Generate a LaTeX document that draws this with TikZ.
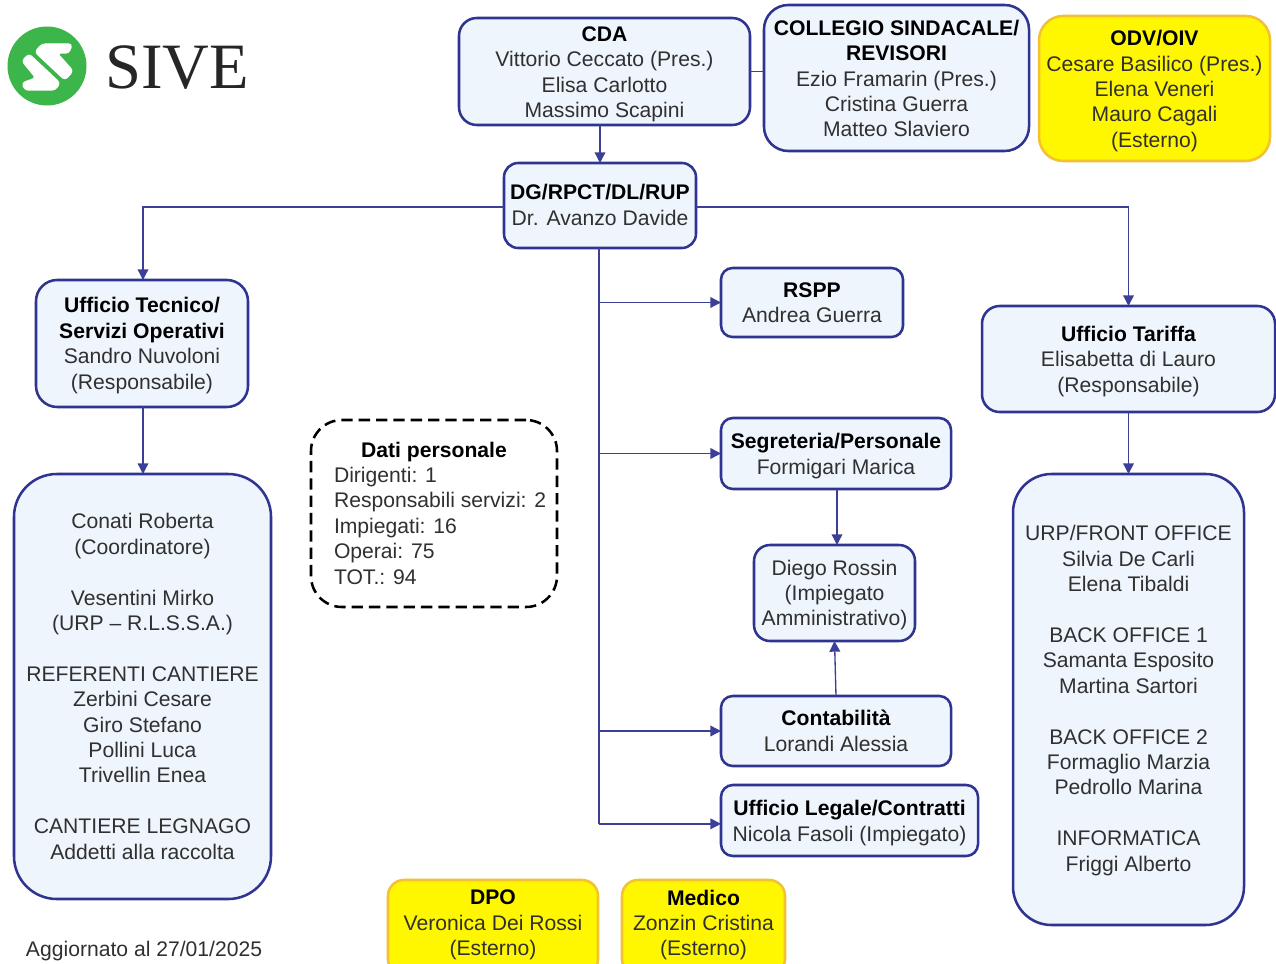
\documentclass[tikz,border=0pt]{standalone}
\usepackage{fontspec}
\setmainfont{Liberation Sans}
\newfontfamily\logofont{Liberation Serif}
\usetikzlibrary{arrows.meta}
\definecolor{bord}{HTML}{2F3490}
\definecolor{lin}{HTML}{3B3F98}
\definecolor{pale}{HTML}{EFF5FD}
\definecolor{yel}{HTML}{FFF700}
\definecolor{yelb}{HTML}{F2C230}
\definecolor{txt}{HTML}{303030}
\definecolor{sgreen}{HTML}{3CB54A}
\tikzset{
  x=0.75pt,y=-0.75pt,
  base/.style={inner sep=0pt,outer sep=0pt},
  blue/.style={base,draw=bord,line width=1.9pt,fill=pale},
  gold/.style={base,draw=yelb,line width=1.9pt,fill=yel},
  dati/.style={base,draw=black,line width=1.9pt,dash pattern=on 8.5pt off 4.5pt,fill=white},
  label/.style={inner sep=0pt,outer sep=0pt,align=center,font=\fontsize{15.85pt}{19.05pt}\selectfont,text=txt},
  plain/.style={inner sep=0pt,outer sep=0pt,align=left,font=\fontsize{15.85pt}{19.05pt}\selectfont,text=txt},
  conn/.style={draw=lin,line width=1pt},
  arr/.style={conn,-{Triangle[length=8pt,width=8pt]}},
  logow/.style={fill=white,draw=white,line width=1pt,line join=round,rounded corners=2.5pt},
}
% name, x1, y1, x2, y2, style, text, text offset
\newcommand{\bx}[8]{%
  \pgfmathsetmacro\rad{min(#4-#2,#5-#3)*0.1667*0.75}%
  \node[#6,rounded corners=\rad pt,minimum width={(#4-#2)*0.75pt},minimum height={(#5-#3)*0.75pt}] (#1) at ({(#2+#4)/2},{(#3+#5)/2}) {};
  \node[label] (#1t) at ({(#2+#4)/2},{(#3+#5)/2+#8}) {#7};}
\newcommand{\hd}[1]{\textbf{\textcolor{black}{#1}}}
\begin{document}
\begin{tikzpicture}
\useasboundingbox (0,0) rectangle (1276,963);
\clip (0,0) rectangle (1276,963);
\fill[white] (0,0) rectangle (1276,963);
% logo
\fill[sgreen] (47,66) circle[radius=39.5];
\path[logow] (42,44) -- (72,44) -- (69,53) -- (57,53) -- (73,71) -- (65,80) -- (35,52) -- cycle;
\path[logow] (29,54) -- (60,83) -- (55,90) -- (25,90) -- (22,83) -- (36,78) -- (22,61) -- cycle;
\node[inner sep=0pt,anchor=west,text=black!85,font=\logofont\fontsize{48.5pt}{48.5pt}\selectfont] (logo) at (105,68) {SIVE};
% boxes
\bx{cda}{459}{18}{750}{125}{blue}{\hd{CDA}\\Vittorio Ceccato (Pres.)\\Elisa Carlotto\\Massimo Scapini}{3}
\bx{coll}{764}{5}{1029}{151}{blue}{\hd{COLLEGIO SINDACALE/}\\\hd{REVISORI}\\Ezio Framarin (Pres.)\\Cristina Guerra\\Matteo Slaviero}{0.5}
\bx{odv}{1039}{16}{1270}{161}{gold}{\hd{ODV/OIV}\\Cesare Basilico (Pres.)\\Elena Veneri\\Mauro Cagali\\(Esterno)}{2.5}
\bx{dg}{504}{163}{696}{248}{blue}{\hd{DG/RPCT/DL/RUP}\\Dr. Avanzo Davide}{-0.5}
\bx{ut}{36}{280}{248}{407}{blue}{\hd{Ufficio Tecnico/}\\\hd{Servizi Operativi}\\Sandro Nuvoloni\\(Responsabile)}{2}
\bx{rspp}{721}{268}{903}{337}{blue}{\hd{RSPP}\\Andrea Guerra}{0}
\bx{tar}{982}{306}{1275}{412}{blue}{\hd{Ufficio Tariffa}\\Elisabetta di Lauro\\(Responsabile)}{2.5}
\bx{seg}{721}{418}{951}{489}{blue}{\hd{Segreteria/Personale}\\Formigari Marica}{2.5}
\bx{die}{754}{545}{915}{641}{blue}{Diego Rossin\\(Impiegato\\Amministrativo)}{2}
\bx{con}{721}{696}{951}{766}{blue}{\hd{Contabilità}\\Lorandi Alessia}{0}
\bx{leg}{721}{785}{978}{856}{blue}{\hd{Ufficio Legale/Contratti}\\Nicola Fasoli (Impiegato)}{2.5}
\pgfmathsetmacro\rad{31*0.75}
\node[dati,rounded corners=\rad pt,minimum width=184.5pt,minimum height=140.25pt] (dbox) at (434,513.5) {};
\node[plain,anchor=west] (dtext) at (334,513) {\makebox[150pt][c]{\hd{Dati personale}}\\Dirigenti: 1\\Responsabili servizi: 2\\Impiegati: 16\\Operai: 75\\TOT.: 94};
\bx{lbig}{14}{474}{271}{899}{blue}{Conati Roberta\\(Coordinatore)\\[19.05pt]Vesentini Mirko\\(URP – R.L.S.S.A.)\\[19.05pt]REFERENTI CANTIERE\\Zerbini Cesare\\Giro Stefano\\Pollini Luca\\Trivellin Enea\\[19.05pt]CANTIERE LEGNAGO\\Addetti alla raccolta}{0}
\bx{rbig}{1013}{474}{1244}{925}{blue}{URP/FRONT OFFICE\\Silvia De Carli\\Elena Tibaldi\\[19.05pt]BACK OFFICE 1\\Samanta Esposito\\Martina Sartori\\[19.05pt]BACK OFFICE 2\\Formaglio Marzia\\Pedrollo Marina\\[19.05pt]INFORMATICA\\Friggi Alberto}{1}
\bx{dpo}{388}{880}{598}{975}{gold}{\hd{DPO}\\Veronica Dei Rossi\\(Esterno)}{-2.5}
\bx{med}{622}{880}{785}{975}{gold}{\hd{Medico}\\Zonzin Cristina\\(Esterno)}{-2.5}
\node[plain,anchor=west] (upd) at (26,951.5) {Aggiornato al 27/01/2025};
% connectors
\draw[arr] (cda.south -| dg.north) -- (dg.north);
\draw[conn] (cda.east) -- (cda.east -| coll.west);
\draw[arr] ([yshift=-1pt]dg.west) -| ([xshift=.75pt]ut.north);
\draw[arr] ([yshift=-1pt]dg.east) -| (tar.north);
\draw[arr] ([xshift=.75pt]ut.south) -- ([xshift=.75pt]ut.south |- lbig.north);
\draw[arr] (tar.south) -- (tar.south |- rbig.north);
\coordinate (trunk) at ([xshift=-.75pt]dg.south);
\draw[conn] (trunk) -- ([yshift=-2.5pt]trunk |- leg.west);
\draw[arr] (trunk |- rspp.west) -- (rspp.west);
\draw[arr] (trunk |- seg.west) -- (seg.west);
\draw[arr] (trunk |- con.west) -- (con.west);
\draw[arr] ([yshift=-2.5pt]trunk |- leg.west) -- ([yshift=-2.5pt]leg.west);
\draw[arr] ([xshift=.75pt]seg.south) -- ([xshift=.75pt]seg.south |- die.north);
\draw[arr] (con.north) -- (die.south);
\end{tikzpicture}
\end{document}
